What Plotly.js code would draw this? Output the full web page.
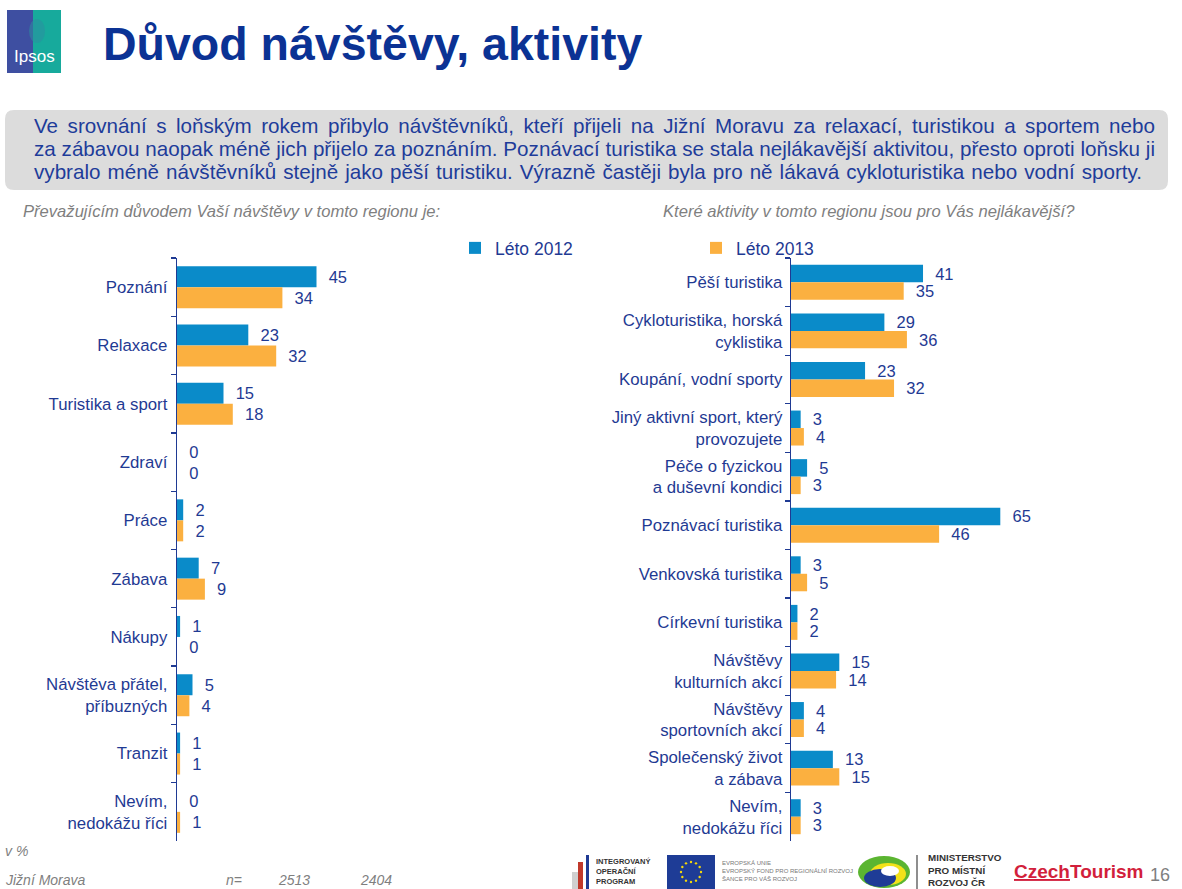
<!DOCTYPE html>
<html>
<head>
<meta charset="utf-8">
<script src="https://cdn.plot.ly/plotly-3.0.1.min.js"></script>
<style>
html,body{margin:0;padding:0;background:#fff;}
#chart{width:1182px;height:889px;}
</style>
</head>
<body>
<div id="chart"></div>
<script>
// ---------- DATA ----------
const seriesNames = ['Léto 2012', 'Léto 2013'];
const leftCategories = ['Poznání', 'Relaxace', 'Turistika a sport', 'Zdraví', 'Práce', 'Zábava', 'Nákupy',
  'Návštěva přátel,<br>příbuzných', 'Tranzit', 'Nevím,<br>nedokážu říci'];
const left2012 = [45, 23, 15, 0, 2, 7, 1, 5, 1, 0];
const left2013 = [34, 32, 18, 0, 2, 9, 0, 4, 1, 1];
const rightCategories = ['Pěší turistika', 'Cykloturistika, horská<br>cyklistika', 'Koupání, vodní sporty',
  'Jiný aktivní sport, který<br>provozujete', 'Péče o fyzickou<br>a duševní kondici', 'Poznávací turistika',
  'Venkovská turistika', 'Církevní turistika', 'Návštěvy<br>kulturních akcí', 'Návštěvy<br>sportovních akcí',
  'Společenský život<br>a zábava', 'Nevím,<br>nedokážu říci'];
const right2012 = [41, 29, 23, 3, 5, 65, 3, 2, 15, 4, 13, 3];
const right2013 = [35, 36, 32, 4, 3, 46, 5, 2, 14, 4, 15, 3];
const sampleSizes = ['2513', '2404'];

const titleText = 'Důvod návštěvy, aktivity';
const leftQuestion = 'Převažujícím důvodem Vaší návštěvy v tomto regionu je:';
const rightQuestion = 'Které aktivity v tomto regionu jsou pro Vás nejlákavější?';
const summaryLines = [
  'Ve srovnání s loňským rokem přibylo návštěvníků, kteří přijeli na Jižní Moravu za relaxací, turistikou a sportem nebo',
  'za zábavou naopak méně jich přijelo za poznáním. Poznávací turistika se stala nejlákavější aktivitou, přesto oproti loňsku ji',
  'vybralo méně návštěvníků stejně jako pěší turistiku. Výrazně častěji byla pro ně lákavá cykloturistika nebo vodní sporty.'
];

// ---------- STYLE ----------
const W = 1182, H = 889;
const px = x => x / W;
const py = y => 1 - y / H;
const FONT = 'Arial, "Liberation Sans", sans-serif';
const NAVY = '#1F3A93';
const BLUE = '#0A8BC9';
const ORANGE = '#FBB040';
const GREY = '#7F7F7F';
const boxFs0 = 17.5;
const lineTargets = [1121, 1121, 1108];

const lbl = v => '\u00a0\u00a0' + v;

function barTrace(vals, cats, name, color, xa, ya, showlegend) {
  return {
    type: 'bar', orientation: 'h', name: name,
    x: vals, y: cats, xaxis: xa, yaxis: ya,
    marker: {color: color, line: {width: 0}},
    text: vals.map(lbl), textposition: 'outside', cliponaxis: false,
    constraintext: 'none',
    textfont: {family: FONT, size: 16.5, color: NAVY},
    showlegend: showlegend, legendgroup: name, hoverinfo: 'x+y'
  };
}

const traces = [
  barTrace(left2012, leftCategories, seriesNames[0], BLUE, 'x', 'y', true),
  barTrace(left2013, leftCategories, seriesNames[1], ORANGE, 'x', 'y', true),
  barTrace(right2012, rightCategories, seriesNames[0], BLUE, 'x2', 'y2', false),
  barTrace(right2013, rightCategories, seriesNames[1], ORANGE, 'x2', 'y2', false)
];

const plotW = 300;
const yAxisCommon = {
  type: 'category', autorange: 'reversed', showline: true, linecolor: NAVY, linewidth: 1.3,
  ticks: 'outside', tickson: 'boundaries', ticklen: 5, tickwidth: 1.3, tickcolor: NAVY,
  tickfont: {family: FONT, size: 16.8, color: NAVY}, showgrid: false, zeroline: false,
  fixedrange: true
};
const xAxisCommon = {visible: false, showgrid: false, zeroline: false, fixedrange: true};

// shapes
const shapes = [];
function rect(x0, y0, x1, y1, color, extra) {
  shapes.push(Object.assign({type: 'rect', xref: 'paper', yref: 'paper',
    x0: px(x0), x1: px(x1), y0: py(y1), y1: py(y0), fillcolor: color, line: {width: 0}, layer: 'below'}, extra || {}));
}
function circle(cx, cy, rx, ry, color, extra) {
  shapes.push(Object.assign({type: 'circle', xref: 'paper', yref: 'paper',
    x0: px(cx - rx), x1: px(cx + rx), y0: py(cy + ry), y1: py(cy - ry), fillcolor: color, line: {width: 0}}, extra || {}));
}
// rounded grey box
(function () {
  const x0 = 5, x1 = 1168, y0 = 110, y1 = 190, r = 9;
  const P = (x, y) => px(x) + ',' + py(y);
  const path = 'M' + P(x0 + r, y0) + ' L' + P(x1 - r, y0) + ' Q' + P(x1, y0) + ' ' + P(x1, y0 + r) +
    ' L' + P(x1, y1 - r) + ' Q' + P(x1, y1) + ' ' + P(x1 - r, y1) + ' L' + P(x0 + r, y1) +
    ' Q' + P(x0, y1) + ' ' + P(x0, y1 - r) + ' L' + P(x0, y0 + r) + ' Q' + P(x0, y0) + ' ' + P(x0 + r, y0) + ' Z';
  shapes.push({type: 'path', xref: 'paper', yref: 'paper', path: path, fillcolor: '#DCDCDC', line: {width: 0}, layer: 'below'});
})();
// Ipsos logo
rect(7, 10, 34, 73, '#3E4FA1');
rect(33, 10, 61, 73, '#17AA9C');
circle(37, 31, 8, 12, '#2C8EA0', {opacity: 0.55});
// IOP logo
rect(572, 872, 578, 889, '#D0D0D0');
rect(578, 862, 583, 889, '#C0392B');
rect(586, 855, 589, 889, '#1F3A93');
// EU flag
rect(667, 855, 715, 889, '#1E3C96');
for (let i = 0; i < 12; i++) {
  const a = i * Math.PI / 6;
  circle(691 + 10 * Math.cos(a), 872 + 10 * Math.sin(a), 1.2, 1.2, '#F5D90A');
}
// MMR logo
circle(884, 872, 26, 16, '#5BB531');
circle(888, 874, 18, 11, '#F2E21A');
circle(880, 878, 16, 9, '#1E3C96');
circle(890, 871, 9, 5, '#FFFFFF');
shapes.push({type: 'line', xref: 'paper', yref: 'paper', x0: px(917), x1: px(917), y0: py(889), y1: py(855),
  line: {color: '#444', width: 1.2}});

// annotations
const ann = [];
function txt(x, y, text, opts) {
  ann.push(Object.assign({xref: 'paper', yref: 'paper', x: px(x), y: py(y), text: text, showarrow: false,
    xanchor: 'left', yanchor: 'middle', align: 'left', font: {family: FONT, size: 14, color: GREY}}, opts || {}));
  return ann.length - 1;
}
txt(101, 44, '<b>' + titleText + '</b>', {font: {family: FONT, size: 46.5, color: '#0B3294'}});
txt(34, 57, 'Ipsos', {xanchor: 'center', align: 'center', font: {family: FONT, size: 17, color: '#FFFFFF'}});
const lineY = [126, 149, 172];
const summaryIdx = summaryLines.map((l, i) => txt(32, lineY[i], l, {font: {family: FONT, size: boxFs0, color: '#1E3C9A'}}));
txt(21, 211, '<i>' + leftQuestion + '</i>', {font: {family: FONT, size: 16.6, color: GREY}});
txt(661, 211, '<i>' + rightQuestion + '</i>', {font: {family: FONT, size: 16.6, color: GREY}});
txt(3, 851, '<i>v %</i>', {font: {family: FONT, size: 14, color: GREY}});
txt(3, 880, '<i>Jižní Morava</i>', {font: {family: FONT, size: 14, color: GREY}});
txt(224, 880, '<i>n=</i>', {font: {family: FONT, size: 14, color: GREY}});
txt(276, 880, '<i>' + sampleSizes[0] + '</i>', {font: {family: FONT, size: 14, color: GREY}});
txt(358, 880, '<i>' + sampleSizes[1] + '</i>', {font: {family: FONT, size: 14, color: GREY}});
// logo texts
txt(594, 871, '<b>INTEGROVANÝ<br>OPERAČNÍ<br>PROGRAM</b>', {font: {family: FONT, size: 7.5, color: '#333'}});
txt(720, 871, 'EVROPSKÁ UNIE<br>EVROPSKÝ FOND PRO REGIONÁLNÍ ROZVOJ<br>ŠANCE PRO VÁŠ ROZVOJ', {font: {family: FONT, size: 6, color: '#777'}});
txt(926, 870, '<b>MINISTERSTVO<br>PRO MÍSTNÍ<br>ROZVOJ ČR</b>', {font: {family: FONT, size: 9.8, color: '#333'}});
txt(1012, 871, '<b><u>Czech</u>Tourism</b>', {font: {family: FONT, size: 19, color: '#D21F3C'}});
txt(1148, 875, '16', {font: {family: FONT, size: 18, color: GREY}});

const layout = {
  width: W, height: H, autosize: false,
  margin: {l: 0, r: 0, t: 0, b: 0, pad: 0},
  paper_bgcolor: '#FFFFFF', plot_bgcolor: 'rgba(0,0,0,0)',
  barmode: 'group', bargap: 0.28, bargroupgap: 0,
  font: {family: FONT, color: NAVY},
  xaxis: Object.assign({domain: [px(177), px(177 + plotW)], range: [0, plotW / 3.1], anchor: 'y'}, xAxisCommon),
  yaxis: Object.assign({domain: [py(841), py(258)], anchor: 'x', ticklabelstandoff: 5}, yAxisCommon),
  xaxis2: Object.assign({domain: [px(791), px(791 + plotW)], range: [0, plotW / 3.22], anchor: 'y2'}, xAxisCommon),
  yaxis2: Object.assign({domain: [py(841), py(258)], anchor: 'x2', ticklabelstandoff: 4}, yAxisCommon),
  showlegend: true,
  legend: {orientation: 'h', x: px(455), y: py(230), xanchor: 'left', yanchor: 'top',
    font: {family: FONT, size: 17.5, color: NAVY}, entrywidth: 196, entrywidthmode: 'pixels',
    bgcolor: 'rgba(0,0,0,0)', itemclick: false, itemdoubleclick: false, traceorder: 'normal'},
  shapes: shapes,
  annotations: ann
};

function summaryEls() {
  const out = [];
  document.querySelectorAll('g.annotation text.annotation-text').forEach(el => {
    const idx = summaryLines.indexOf(el.textContent);
    if (idx >= 0) out[idx] = el;
  });
  return out;
}

Plotly.newPlot('chart', traces, layout, {displayModeBar: false, staticPlot: true}).then(gd => {
  // size the paragraph font so that no line is wider than its reference width
  const els = summaryEls();
  let scale = Infinity;
  els.forEach((el, i) => {
    const w = el ? el.getComputedTextLength() : 0;
    if (w > 0) scale = Math.min(scale, lineTargets[i] / w);
  });
  let fs = isFinite(scale) ? boxFs0 * scale : boxFs0;
  if (fs < 14 || fs > 22) fs = boxFs0;
  const upd = {};
  summaryIdx.forEach(i => { upd['annotations[' + i + '].font.size'] = fs; });
  return Plotly.relayout(gd, upd);
}).then(() => {
  // justify each line to the reference width
  const els = summaryEls();
  els.forEach((el, i) => {
    if (!el) return;
    const cur = el.getComputedTextLength();
    const spaces = (el.textContent.match(/ /g) || []).length;
    if (spaces > 0 && cur < lineTargets[i]) {
      el.style.wordSpacing = ((lineTargets[i] - cur) / spaces) + 'px';
    }
  });
});
</script>
</body>
</html>
